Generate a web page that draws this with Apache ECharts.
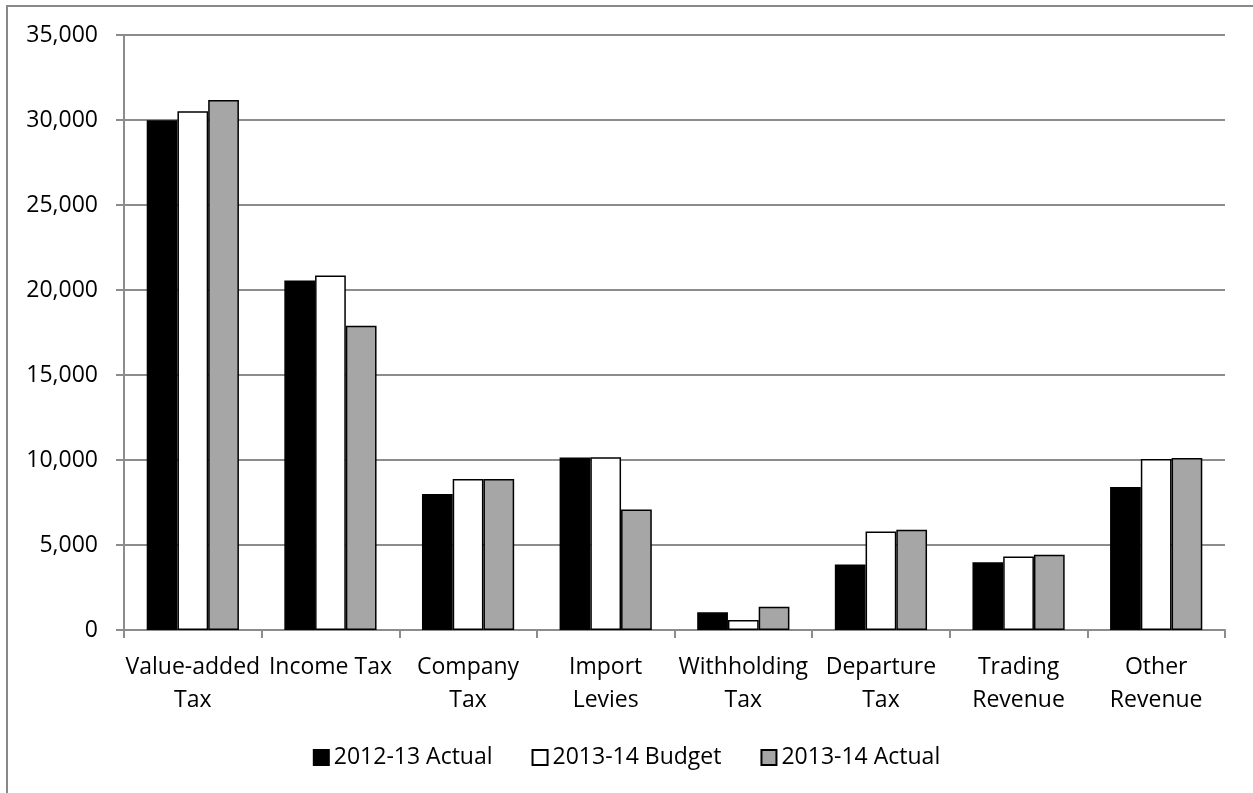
<!DOCTYPE html>
<html>
<head>
<meta charset="utf-8">
<script src="https://cdn.jsdelivr.net/npm/echarts@6/dist/echarts.min.js"></script>
<style>
html,body{margin:0;padding:0;background:#fff;}
#chart{width:1253px;height:793px;}
</style>
</head>
<body>
<div id="chart"></div>
<script>
const categories = ['Value-added\nTax', 'Income Tax', 'Company\nTax', 'Import\nLevies', 'Withholding\nTax', 'Departure\nTax', 'Trading\nRevenue', 'Other\nRevenue'];
const seriesNames = ['2012-13 Actual', '2013-14 Budget', '2013-14 Actual'];
const actual2012 = [29980, 20560, 8000, 10150, 1040, 3860, 3980, 8410];
const budget2013 = [30510, 20860, 8880, 10160, 590, 5800, 4330, 10060];
const actual2013 = [31180, 17900, 8880, 7090, 1370, 5900, 4430, 10120];
const yTicks = { min: 0, max: 35000, interval: 5000 };

const FONT = 'Open Sans';
const colors = ['#000000', '#ffffff', '#a6a6a6'];
const values = [actual2012, budget2013, actual2013];

const chart = echarts.init(document.getElementById('chart'), null, { renderer: 'canvas' });
chart.setOption({
  animation: false,
  backgroundColor: '#ffffff',
  textStyle: { fontFamily: FONT },
  graphic: [{
    type: 'rect',
    shape: { x: 7, y: 6, width: 1270, height: 820 },
    style: { fill: 'none', stroke: '#898989', lineWidth: 2 },
    silent: true
  }],
  grid: { left: 124, right: 28, top: 35, bottom: 163, containLabel: false },
  legend: {
    data: seriesNames,
    left: 'center',
    top: 741,
    itemWidth: 15,
    itemHeight: 15,
    itemGap: 39,
    icon: 'rect',
    textStyle: { fontFamily: FONT, fontSize: 23, color: '#000' }
  },
  xAxis: {
    type: 'category',
    data: categories,
    axisLine: { show: true, lineStyle: { color: '#8c8c8c', width: 2 } },
    axisTick: { show: true, length: 8, alignWithLabel: false, lineStyle: { color: '#8c8c8c', width: 2 } },
    axisLabel: { interval: 0, margin: 21, fontFamily: FONT, fontSize: 23, color: '#000', lineHeight: 33 },
    splitLine: { show: false }
  },
  yAxis: {
    type: 'value',
    min: yTicks.min,
    max: yTicks.max,
    interval: yTicks.interval,
    axisLine: { show: true, lineStyle: { color: '#8c8c8c', width: 2 } },
    axisTick: { show: true, length: 8, lineStyle: { color: '#8c8c8c', width: 2 } },
    axisLabel: {
      margin: 26, fontFamily: FONT, fontSize: 23, color: '#000',
      formatter: v => v.toLocaleString('en-US')
    },
    splitLine: { show: true, lineStyle: { color: '#8c8c8c', width: 2 } }
  },
  series: seriesNames.map((name, i) => ({
    name,
    type: 'bar',
    data: values[i],
    barGap: '0%',
    barCategoryGap: '33%',
    itemStyle: { color: colors[i], borderColor: '#000', borderWidth: 1.5 }
  }))
});
</script>
</body>
</html>
